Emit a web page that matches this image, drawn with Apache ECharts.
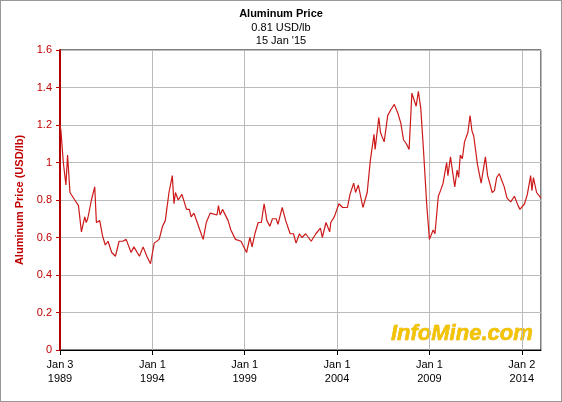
<!DOCTYPE html>
<html><head><meta charset="utf-8">
<script src="https://cdn.jsdelivr.net/npm/echarts@6/dist/echarts.min.js"></script>
<style>html,body{margin:0;padding:0;background:#fff}#c{width:560px;height:400px;border:1px solid #999}</style>
</head><body><div id="c"></div>
<script>
// fractional year, price USD/lb
var years=[1989.0,1989.05,1989.18,1989.32,1989.41,1989.54,1989.8,1990.0,1990.16,1990.34,1990.42,1990.5,1990.7,1990.88,1990.97,1991.15,1991.3,1991.45,1991.6,1991.8,1992.0,1992.2,1992.4,1992.58,1992.85,1993.0,1993.3,1993.5,1993.7,1993.9,1994.1,1994.37,1994.55,1994.7,1994.9,1995.08,1995.17,1995.25,1995.4,1995.6,1995.85,1996.0,1996.1,1996.25,1996.5,1996.75,1996.92,1997.13,1997.5,1997.58,1997.67,1997.8,1998.1,1998.25,1998.5,1998.6,1998.8,1999.1,1999.28,1999.4,1999.55,1999.73,1999.9,2000.05,2000.2,2000.36,2000.5,2000.7,2000.8,2001.03,2001.22,2001.46,2001.64,2001.78,2001.96,2002.1,2002.3,2002.6,2002.85,2003.1,2003.2,2003.4,2003.6,2003.66,2003.85,2004.1,2004.3,2004.56,2004.7,2004.9,2005.0,2005.15,2005.4,2005.63,2005.8,2006.0,2006.06,2006.26,2006.35,2006.55,2006.74,2006.9,2007.1,2007.3,2007.45,2007.6,2007.75,2007.9,2008.05,2008.28,2008.4,2008.53,2008.67,2008.85,2009.0,2009.2,2009.3,2009.48,2009.6,2009.74,2009.93,2010.0,2010.14,2010.37,2010.5,2010.58,2010.67,2010.78,2010.9,2011.08,2011.2,2011.3,2011.4,2011.6,2011.7,2011.8,2012.03,2012.15,2012.4,2012.52,2012.64,2012.78,2013.05,2013.2,2013.4,2013.6,2013.8,2013.9,2014.15,2014.3,2014.48,2014.55,2014.63,2014.8,2015.04];
var prices=[1.2,1.17,1.0,0.88,1.04,0.84,0.80,0.77,0.63,0.71,0.68,0.70,0.80,0.87,0.68,0.69,0.61,0.56,0.58,0.52,0.50,0.58,0.58,0.59,0.52,0.55,0.50,0.55,0.50,0.46,0.57,0.59,0.66,0.69,0.84,0.93,0.78,0.84,0.80,0.83,0.75,0.75,0.71,0.73,0.66,0.59,0.68,0.73,0.72,0.77,0.72,0.75,0.69,0.64,0.59,0.60,0.58,0.52,0.60,0.55,0.62,0.68,0.68,0.78,0.69,0.66,0.70,0.70,0.67,0.76,0.69,0.62,0.62,0.57,0.62,0.60,0.62,0.58,0.62,0.65,0.60,0.68,0.63,0.68,0.71,0.78,0.76,0.76,0.83,0.89,0.84,0.88,0.76,0.84,1.01,1.15,1.07,1.24,1.16,1.11,1.25,1.28,1.31,1.26,1.21,1.12,1.10,1.07,1.37,1.30,1.38,1.29,1.08,0.78,0.59,0.64,0.62,0.82,0.85,0.89,1.00,0.93,1.03,0.87,0.96,0.92,1.04,1.02,1.11,1.16,1.25,1.17,1.14,0.99,0.98,0.89,1.03,0.93,0.84,0.85,0.92,0.94,0.87,0.81,0.79,0.82,0.77,0.75,0.78,0.83,0.93,0.85,0.92,0.84,0.81];
var tickYears=[1989,1994,1999,2004,2009,2014];
var tickDays={1989:'Jan 3',2014:'Jan 2'};

var data=years.map(function(y,i){return [y,prices[i]];});
var chart=echarts.init(document.getElementById('c'));
chart.setOption({
    animation:false,
    title:{text:'Aluminum Price',subtext:'0.81 USD/lb\n15 Jan \'15',left:'center',top:2,itemGap:2,
        textStyle:{fontSize:11,fontWeight:'bold',color:'#000',fontFamily:'Arial'},
        subtextStyle:{fontSize:11,color:'#000',fontFamily:'Arial',lineHeight:13}},
    grid:{left:59,right:20,top:49,bottom:51,show:true,borderColor:'#000',borderWidth:1},
    xAxis:{type:'value',min:1989,max:2015.04,interval:5,
        axisLine:{lineStyle:{color:'#000'}},
        axisTick:{show:true,length:5,lineStyle:{color:'#000'}},
        splitLine:{show:true,lineStyle:{color:'#bbb'}},
        axisLabel:{showMaxLabel:false,color:'#000',fontSize:11,fontFamily:'Arial',lineHeight:14,
            formatter:function(v){var y=Math.round(v);return (tickDays[y]||'Jan 1')+'\n'+y;}}},
    yAxis:{type:'value',min:0,max:1.6,interval:0.2,
        name:'Aluminum Price (USD/lb)',nameLocation:'middle',nameGap:34,
        nameTextStyle:{color:'#c00000',fontWeight:'bold',fontSize:11,fontFamily:'Arial'},
        axisLine:{show:true,lineStyle:{color:'#b00000',width:2}},
        axisTick:{show:true,length:4,lineStyle:{color:'#b00000'}},
        splitLine:{lineStyle:{color:'#bbb'}},
        axisLabel:{color:'#c00000',fontSize:11,fontFamily:'Arial',
            formatter:function(v){return String(+v.toFixed(1));}}},
    series:[{type:'line',data:data,showSymbol:false,lineStyle:{color:'#cc1a1a',width:1.2}}],
    graphic:[{type:'text',right:28,top:322,style:{text:'InfoMine.com',fill:'#f5c400',
        font:'italic bold 22px Arial',stroke:'#d9a400',lineWidth:0.5}}]
});
</script></body></html>
